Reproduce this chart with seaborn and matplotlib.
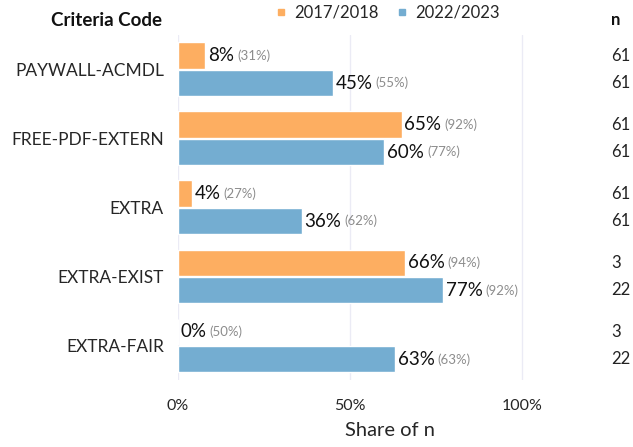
import numpy as np
import pandas as pd
import matplotlib
matplotlib.use("Agg")
import matplotlib.pyplot as plt
import matplotlib.transforms as mtransforms
from matplotlib.lines import Line2D
import seaborn as sns

# values
criteria = ["PAYWALL-ACMDL", "FREE-PDF-EXTERN", "EXTRA", "EXTRA-EXIST", "EXTRA-FAIR"]
periods = ["2017/2018", "2022/2023"]
share_1718 = [0.08, 0.65, 0.04, 0.66, 0.00]
share_2223 = [0.45, 0.60, 0.36, 0.77, 0.63]
other_1718 = [0.31, 0.92, 0.27, 0.94, 0.50]
other_2223 = [0.55, 0.77, 0.62, 0.92, 0.63]
n_1718 = [61, 61, 61, 3, 3]
n_2223 = [61, 61, 61, 22, 22]
x_ticks = [0, 0.5, 1.0]
x_tick_labels = ["0%", "50%", "100%"]

colors = {"2017/2018": "#fdae61", "2022/2023": "#74add1"}

df = pd.DataFrame({
    "criteria": criteria * 2,
    "period": [periods[0]] * 5 + [periods[1]] * 5,
    "share": share_1718 + share_2223,
    "other": other_1718 + other_2223,
    "n": n_1718 + n_2223,
})

sns.set_style("white")
plt.rcParams["font.family"] = ["Lato", "DejaVu Sans"]

fig = plt.figure(figsize=(6.33, 4.47), dpi=100)
ax = fig.add_axes([0.281, 0.150, 0.669, 0.772])

sns.barplot(data=df, y="criteria", x="share", hue="period", order=criteria,
            hue_order=periods, palette=colors, orient="h", width=0.8, gap=0.05,
            saturation=1, legend=False, ax=ax)

ax.set_xlim(0, 1.23)
ax.set_ylim(4.5, -0.5)
ax.set_xticks(x_ticks)
ax.set_xticklabels(x_tick_labels, fontsize=11.5)
ax.tick_params(axis="y", labelsize=12.5, length=0, pad=10)
ax.tick_params(axis="x", length=0, pad=14)
ax.xaxis.grid(True, color="#ebebf5", linewidth=1)
ax.set_axisbelow(True)
for s in ax.spines.values():
    s.set_visible(False)
ax.set_ylabel("")
ax.set_xlabel("Share of n", fontsize=14.5, labelpad=6)

# bar labels: black share, grey value in parentheses
fig.canvas.draw()
renderer = fig.canvas.get_renderer()
offsets = {periods[0]: -0.2, periods[1]: 0.2}
for _, row in df.iterrows():
    yi = criteria.index(row["criteria"]) + offsets[row["period"]]
    t = ax.annotate(f"{row['share']:.0%}", (row["share"], yi), xytext=(2, 0),
                    textcoords="offset points", va="center", ha="left",
                    fontsize=13.5, color="#111111")
    bb = t.get_window_extent(renderer)
    x_disp = bb.x1 + 3
    x_data = ax.transData.inverted().transform((x_disp, 0))[0]
    ax.annotate(f"({row['other']:.0%})", (x_data, yi), va="center", ha="left",
                fontsize=9.5, color="#8c8c8c")

# n column
trans = mtransforms.blended_transform_factory(fig.transFigure, ax.transData)
for _, row in df.iterrows():
    yi = criteria.index(row["criteria"]) + offsets[row["period"]]
    ax.text(0.966, yi, str(row["n"]), transform=trans, ha="left", va="center",
            fontsize=12, color="#222222", clip_on=False)

fig.text(0.256, 0.955, "Criteria Code", ha="right", va="center",
         fontsize=13.5, fontweight="bold", color="#111111")
fig.text(0.966, 0.955, "n", ha="left", va="center", fontsize=12,
         fontweight="bold", color="#111111")

handles = [Line2D([], [], marker="s", linestyle="", markersize=5,
                  color=colors[p], label=p) for p in periods]
fig.legend(handles=handles, loc="center", bbox_to_anchor=(0.61, 0.972),
           ncol=2, frameon=False, fontsize=12, handletextpad=0.3,
           columnspacing=0.9, handlelength=1.0)

fig.savefig("out.png", dpi=100)
